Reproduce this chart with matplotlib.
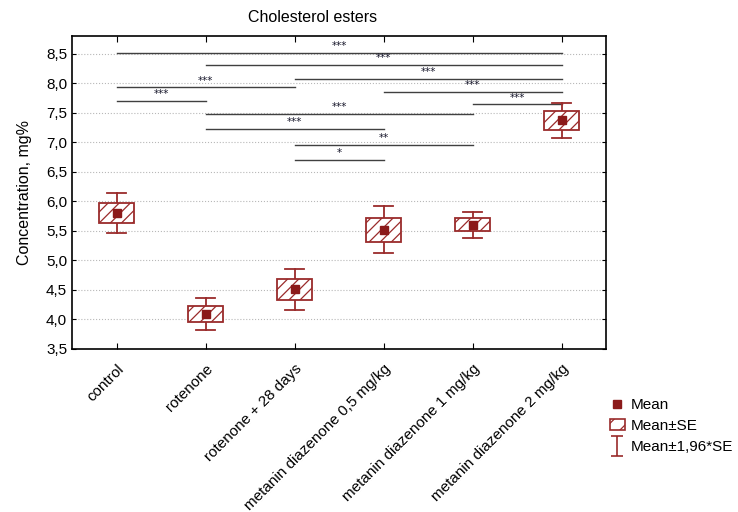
import matplotlib
matplotlib.use('Agg')
import matplotlib.pyplot as plt
import numpy as np
from matplotlib.lines import Line2D
from matplotlib.patches import Rectangle
from matplotlib.path import Path
from matplotlib.ticker import FuncFormatter

plt.rcParams['font.family'] = ['Liberation Sans', 'DejaVu Sans']
plt.rcParams['hatch.linewidth'] = 0.9

groups = ['control', 'rotenone', 'rotenone + 28 days',
          'metanin diazenone 0,5 mg/kg', 'metanin diazenone 1 mg/kg',
          'metanin diazenone 2 mg/kg']
means = [5.80, 4.09, 4.51, 5.52, 5.60, 7.37]
se = [0.175, 0.137, 0.175, 0.205, 0.110, 0.155]

# pairwise comparisons: (group a, group b, bar level, stars)
comp_a = [0, 1, 2, 0, 3, 0, 4, 1, 1, 2, 2]
comp_b = [5, 5, 5, 2, 5, 1, 5, 4, 3, 4, 3]
comp_y = [8.52, 8.31, 8.08, 7.93, 7.85, 7.70, 7.64, 7.48, 7.23, 6.96, 6.70]
comp_txt = ['***', '***', '***', '***', '***', '***', '***', '***', '***', '**', '*']

red = '#8b1a1a'
edge = '#9a2b2b'
box_w = 0.40
cap_w = 0.21

fig = plt.figure(figsize=(7.38, 5.12), dpi=100)
ax = fig.add_axes([0.0976, 0.3184, 0.7236, 0.6113])

x = np.arange(len(groups))
for xi, m, s in zip(x, means, se):
    lo, hi = m - 1.96 * s, m + 1.96 * s
    ax.plot([xi, xi], [lo, m - s], color=edge, lw=1.3, zorder=3)
    ax.plot([xi, xi], [m + s, hi], color=edge, lw=1.3, zorder=3)
    ax.plot([xi - cap_w / 2, xi + cap_w / 2], [lo, lo], color=edge, lw=1.3, zorder=3)
    ax.plot([xi - cap_w / 2, xi + cap_w / 2], [hi, hi], color=edge, lw=1.3, zorder=3)
    box = Rectangle((xi - box_w / 2, m - s), box_w, 2 * s, facecolor='white',
                    edgecolor=edge, hatch='///', lw=1.3, zorder=3)
    ax.add_patch(box)
ax.plot(x, means, 's', color=red, ms=5.5, zorder=4)

for a, b, yv, t in zip(comp_a, comp_b, comp_y, comp_txt):
    ax.plot([a, b], [yv, yv], color='#404040', lw=1.0, zorder=2)
    ax.text((a + b) / 2, yv + 0.03, t, ha='center', va='bottom',
            fontsize=7.5, family='DejaVu Sans', color='#1a1a2e', zorder=2)

ax.set_xlim(-0.5, 5.5)
ax.set_ylim(3.5, 8.8)
ax.set_yticks(np.arange(3.5, 8.51, 0.5))
ax.yaxis.set_major_formatter(FuncFormatter(lambda v, p: ('%.1f' % v).replace('.', ',')))
ax.set_xticks(x)
ax.set_xticklabels(groups, rotation=45, ha='right', va='top',
                   rotation_mode='anchor', fontsize=11)
ax.tick_params(axis='x', direction='in', top=True, length=4, pad=9)
ax.tick_params(axis='y', direction='in', right=True, length=3, labelsize=11)
for gy in np.arange(4.0, 8.51, 0.5):
    ax.axhline(gy, color='#b8b8b8', lw=0.8, ls=':', zorder=1)
for sp in ax.spines.values():
    sp.set_linewidth(1.2)

ax.set_ylabel('Concentration, mg%', fontsize=11.5, labelpad=10)
fig.text(0.424, 0.966, 'Cholesterol esters', ha='center', va='center', fontsize=11.5)

# legend handles
ibeam = Path([(-0.6, 1), (0.6, 1), (0, 1), (0, -1), (-0.6, -1), (0.6, -1)],
             [Path.MOVETO, Path.LINETO, Path.MOVETO, Path.LINETO,
              Path.MOVETO, Path.LINETO])
h_mean = Line2D([], [], marker='s', color=red, ls='none', ms=6)
h_se = Rectangle((0, 0), 1, 1, facecolor='white', edgecolor=edge, hatch='//', lw=1.2)
h_ci = Line2D([], [], marker=ibeam, color=edge, ls='none', ms=14, mew=1.2)
fig.legend([h_mean, h_se, h_ci], ['Mean', 'Mean±SE', 'Mean±1,96*SE'],
           loc='upper left', bbox_to_anchor=(0.818, 0.234), frameon=False,
           fontsize=11, handlelength=1.0, handletextpad=0.35, labelspacing=0.45,
           borderaxespad=0)

fig.savefig('out.png', dpi=100)
